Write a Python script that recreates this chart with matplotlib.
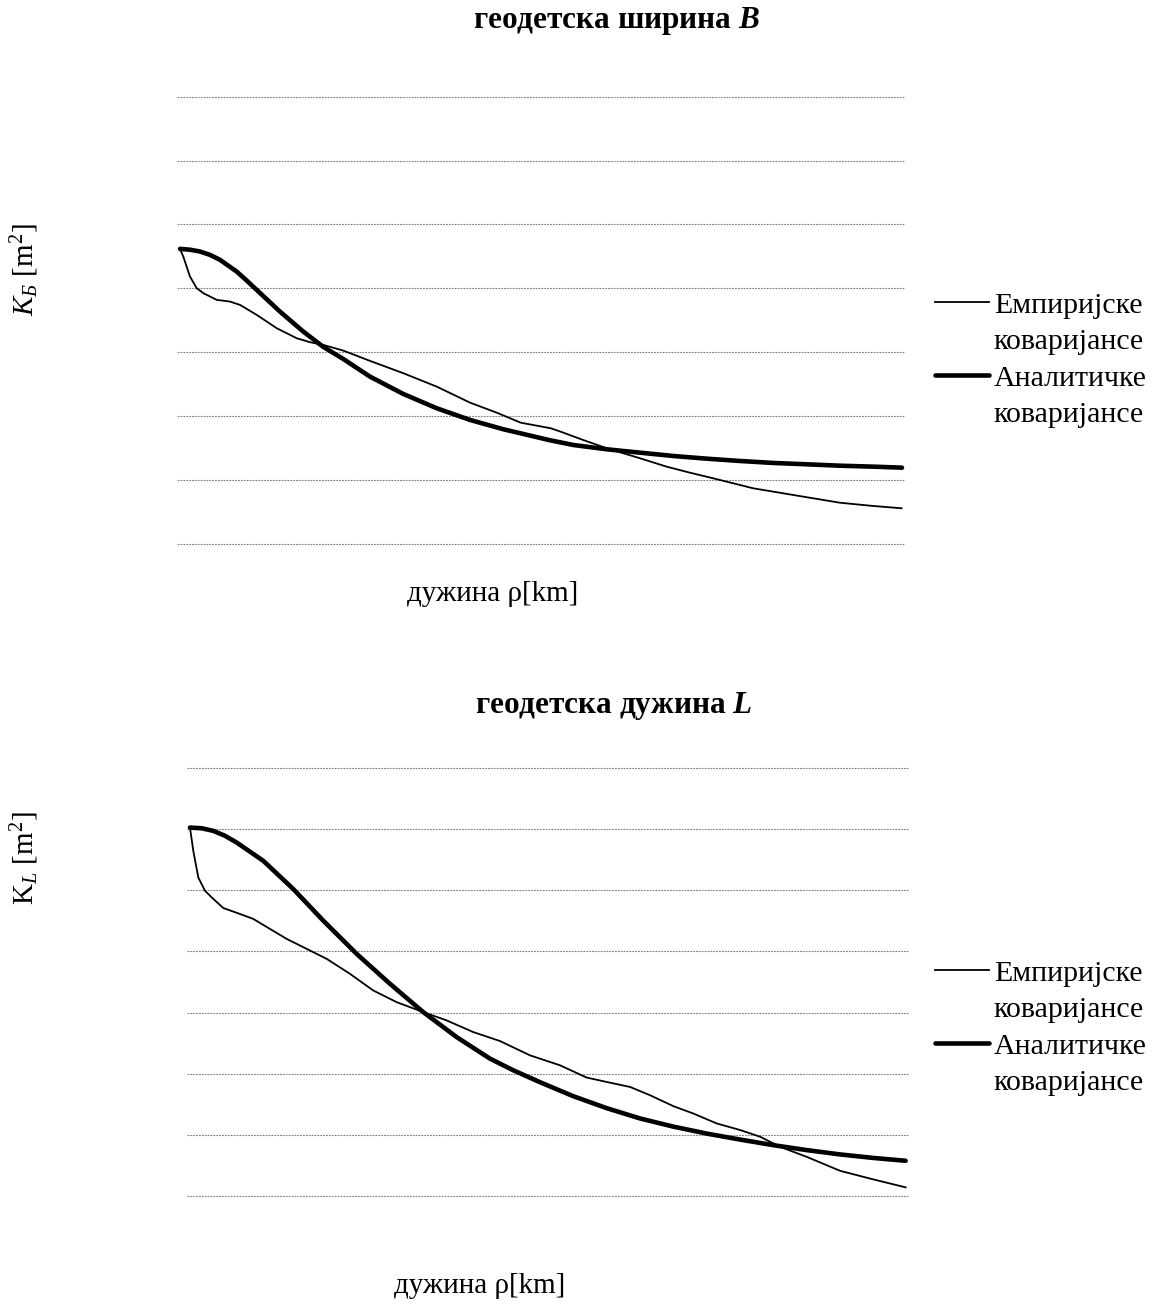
import matplotlib
matplotlib.use('Agg')
import matplotlib.pyplot as plt
from matplotlib.lines import Line2D

plt.rcParams['font.family'] = ['Liberation Serif', 'DejaVu Serif']
plt.rcParams['mathtext.fontset'] = 'custom'
plt.rcParams['mathtext.rm'] = 'Liberation Serif'
plt.rcParams['mathtext.it'] = 'Liberation Serif:italic'
plt.rcParams['mathtext.bf'] = 'Liberation Serif:bold'
plt.rcParams['mathtext.bfit'] = 'Liberation Serif:italic:bold'

# geodetic latitude B - empirical covariances
rho_b_emp = [0, 0.82, 2.49, 4.16, 5.81, 9.15, 12.47, 14.96, 19.12, 24.11, 29.09,
             32.41, 35.73, 40.72, 47.37, 55.67, 64.0, 72.3, 78.96, 84.93, 92.4,
             94.9, 100.5, 106.4, 114.7, 121.3, 127.1, 132.9, 142.9, 152.9, 164.5,
             172.8, 179.9]
k_b_emp = [4.616, 4.495, 4.182, 4.0, 3.922, 3.817, 3.790, 3.738, 3.582, 3.373,
           3.216, 3.154, 3.111, 3.022, 2.861, 2.668, 2.458, 2.207, 2.050, 1.893,
           1.806, 1.752, 1.622, 1.492, 1.335, 1.204, 1.110, 1.022, 0.865, 0.760,
           0.639, 0.588, 0.552]

# geodetic latitude B - analytic covariances
rho_b_ana = [0, 2.49, 4.99, 7.48, 9.97, 14.13, 16.45, 19.12, 24.93, 30.74, 35.73,
             40.72, 47.37, 55.67, 64.0, 72.3, 80.6, 92.2, 98.0, 106.4, 114.7,
             123.0, 131.3, 139.6, 147.9, 156.2, 164.5, 172.8, 180.0]
k_b_ana = [4.616, 4.603, 4.574, 4.522, 4.444, 4.260, 4.130, 3.973, 3.633, 3.320,
           3.080, 2.890, 2.614, 2.343, 2.119, 1.936, 1.790, 1.618, 1.544, 1.476,
           1.423, 1.371, 1.329, 1.293, 1.262, 1.241, 1.219, 1.204, 1.188]

# geodetic longitude L - empirical covariances
rho_l_emp = [0, 0.83, 2.09, 3.77, 5.45, 8.37, 12.58, 15.92, 24.32, 34.38, 40.24,
             46.1, 51.98, 58.67, 64.55, 71.25, 77.97, 85.51, 93.06, 99.77, 104.8,
             110.7, 115.7, 121.6, 126.6, 132.5, 138.4, 143.4, 148.4, 155.1, 163.5,
             171.8, 180.0]
k_l_emp = [6.029, 5.649, 5.212, 4.995, 4.886, 4.712, 4.614, 4.533, 4.206, 3.879,
           3.634, 3.361, 3.170, 3.007, 2.871, 2.680, 2.533, 2.299, 2.136, 1.935,
           1.863, 1.781, 1.646, 1.466, 1.346, 1.183, 1.075, 0.966, 0.801, 0.637,
           0.408, 0.268, 0.137]

# geodetic longitude L - analytic covariances
rho_l_ana = [0, 2.93, 5.86, 8.8, 11.75, 18.43, 25.98, 33.52, 41.92, 50.3, 58.67,
             67.07, 75.45, 81.31, 88.03, 96.4, 104.8, 113.2, 121.6, 130.0, 138.4,
             146.7, 155.1, 163.5, 171.8, 180.0]
k_l_ana = [6.029, 6.018, 5.975, 5.895, 5.784, 5.485, 5.023, 4.505, 3.961, 3.471,
           3.007, 2.598, 2.245, 2.054, 1.859, 1.630, 1.434, 1.265, 1.131, 1.017,
           0.919, 0.828, 0.747, 0.676, 0.619, 0.572]

grid_ticks = [0, 1, 2, 3, 4, 5, 6, 7]
legend_labels = ['Емпиријске', 'коваријансе', 'Аналитичке', 'коваријансе']

W, H = 1161, 1307
fig = plt.figure(figsize=(W / 100, H / 100), dpi=100)


def panel(rect, xe, ye, xa, ya, xlim, legend_top):
    ax = fig.add_axes(rect)
    emp, = ax.plot(xe, ye, color='black', lw=1.3, clip_on=False)
    ana, = ax.plot(xa, ya, color='black', lw=3.3, solid_capstyle='round',
                   solid_joinstyle='round', clip_on=False)
    ax.set_xlim(*xlim)
    ax.set_ylim(0, 7)
    ax.set_yticks(grid_ticks)
    ax.set_xticks([])
    ax.tick_params(left=False, labelleft=False)
    ax.grid(axis='y', color='#808080', lw=0.8, ls=(0, (1.6, 1.0)))
    for gl in ax.get_ygridlines():
        gl.set_clip_on(False)
    for s in ax.spines.values():
        s.set_visible(False)
    blank = Line2D([], [], color='none')
    ax.legend([emp, blank, ana, blank], legend_labels, loc='upper left',
              bbox_to_anchor=(935 / W, 1 - legend_top / H),
              bbox_transform=fig.transFigure, frameon=False, fontsize=21.5,
              handlelength=1.8, handletextpad=0.17, borderpad=0,
              borderaxespad=0, labelspacing=0.32)
    return ax


panel([177 / W, 1 - 543.5 / H, 728 / W, 446.8 / H],
      rho_b_emp, k_b_emp, rho_b_ana, k_b_ana, (-0.75, 180.75), 292)
panel([187 / W, 1 - 1195.7 / H, 721 / W, 427.4 / H],
      rho_l_emp, k_l_emp, rho_l_ana, k_l_ana, (-0.75, 180.6), 960)

fig.text(616 / W, 1 - 21 / H, r'геодетска ширина $\mathbfit{B}$', fontsize=22.5,
         fontweight='bold', ha='center', va='center')
fig.text(614 / W, 1 - 706 / H, r'геодетска дужина $\mathbfit{L}$', fontsize=22.5,
         fontweight='bold', ha='center', va='center')
fig.text(493 / W, 1 - 594 / H, 'дужина ρ[km]', fontsize=21, ha='center', va='center')
fig.text(480 / W, 1 - 1286 / H, 'дужина ρ[km]', fontsize=21, ha='center', va='center')
fig.text(25 / W, 1 - 270 / H, r'$K_{Б}$ [m$^{2}$]', fontsize=21, rotation=90,
         ha='center', va='center')
fig.text(25 / W, 1 - 858 / H, r'$\mathrm{K}_{L}$ [m$^{2}$]', fontsize=21, rotation=90,
         ha='center', va='center')

fig.savefig('out.png', dpi=100)
